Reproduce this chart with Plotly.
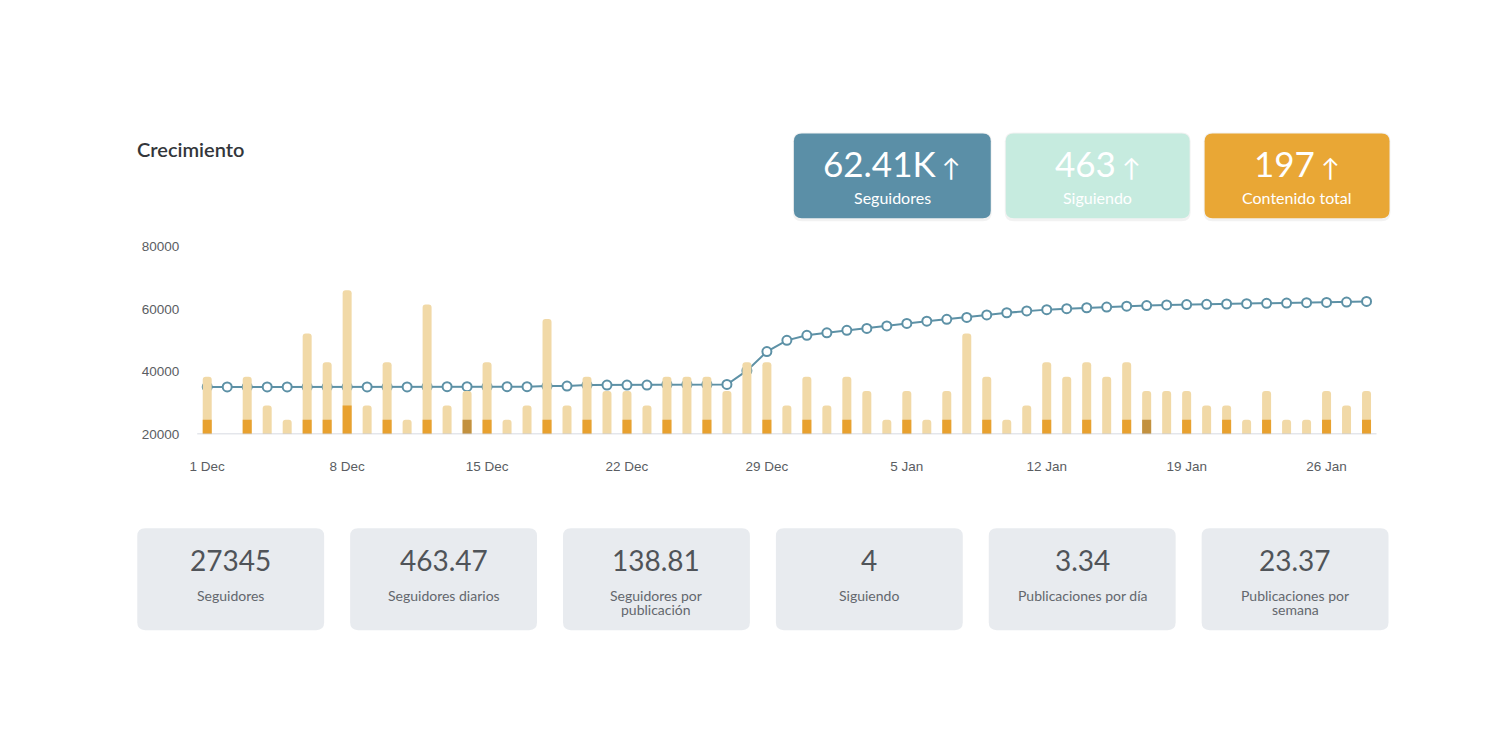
import pandas as pd
import plotly.graph_objects as go

# figure is sized to fit inside the 1500x750 window with the 8px page margin
W, H = 1484, 734
PAGE_MARGIN = 8
# measured mapping between page pixels and the photographed picture
SX, OX = 0.9952, 7.7
SY, OY = 0.98, 6.7

# --- data ---
days = pd.date_range("2023-12-01", periods=59, freq="D")

# posts per day (light bars) and featured posts (dark bars)
posts_total = [4, 0, 4, 2, 1, 7, 5, 10, 2, 5, 1, 9, 2, 3, 5, 1, 2, 8, 2,
               4, 3, 3, 2, 4, 4, 4, 3, 5, 5, 2, 4, 2, 4, 3, 1, 3, 1, 3, 7,
               4, 1, 2, 5, 4, 5, 4, 5, 3, 3, 3, 2, 2, 1, 3, 1, 1, 3, 2, 3]
posts_featured = [1, 0, 1, 0, 0, 1, 1, 2, 0, 1, 0, 1, 0, 1, 1, 0, 0, 1, 0,
                  1, 0, 1, 0, 1, 0, 1, 0, 0, 1, 0, 1, 0, 1, 0, 0, 1, 0, 1, 0,
                  1, 0, 0, 1, 0, 1, 0, 1, 1, 0, 1, 0, 1, 0, 1, 0, 0, 1, 0, 1]
highlight_days = [13, 47]

followers = [35100, 35100, 35100, 35100, 35100, 35100, 35100, 35100, 35100, 35100,
             35100, 35200, 35200, 35200, 35200, 35200, 35200, 35400, 35400, 35700,
             35700, 35700, 35700, 35900, 35900, 35900, 35900, 40300, 46400, 50000,
             51600, 52400, 53200, 53800, 54600, 55400, 56100, 56700, 57300, 58100,
             58800, 59400, 59800, 60100, 60400, 60600, 60900, 61100, 61300, 61400,
             61500, 61600, 61700, 61800, 61900, 62000, 62100, 62200, 62410]

kpi_values = ["62.41K", "463", "197"]
kpi_labels = ["Seguidores", "Siguiendo", "Contenido total"]

stat_values = ["27345", "463.47", "138.81", "4", "3.34", "23.37"]
stat_labels = ["Seguidores", "Seguidores diarios", "Seguidores por<br>publicación",
               "Siguiendo", "Publicaciones por día", "Publicaciones por<br>semana"]

# --- colours ---
LIGHT = "#f1d9a7"
DARK = "#e8a12f"
BROWN = "#c2913f"
LINE = "#5d91a6"
KPI_COLORS = ["#5b8fa7", "#c6ebdf", "#e9a735"]
STAT_BG = "#e8ebef"
FONT = "Lato"


# helpers: picture pixel -> paper fraction
def px(x):
    return ((x - OX) / SX - PAGE_MARGIN) / W


def py(y):
    return 1 - ((y - OY) / SY - PAGE_MARGIN) / H


def rounded_rect(x0, y0, x1, y1, r=8):
    rx, ry = r / W, r / H
    L, R, T, B = px(x0), px(x1), py(y0), py(y1)
    return (f"M{L+rx},{T} L{R-rx},{T} Q{R},{T} {R},{T-ry} L{R},{B+ry} "
            f"Q{R},{B} {R-rx},{B} L{L+rx},{B} Q{L},{B} {L},{B+ry} "
            f"L{L},{T-ry} Q{L},{T} {L+rx},{T} Z")


featured_colors = [BROWN if i in highlight_days else DARK for i in range(len(days))]
bar_w = 0.45 * 86400000

fig = go.Figure()
fig.add_trace(go.Bar(x=days, y=posts_total, yaxis="y2", width=bar_w,
                     marker=dict(color=LIGHT, line_width=0), name="Publicaciones"))
fig.add_trace(go.Bar(x=days, y=posts_featured, yaxis="y2", width=bar_w,
                     marker=dict(color=featured_colors, line_width=0), name="Destacadas"))
fig.add_trace(go.Scatter(x=days, y=followers, mode="lines+markers", name="Seguidores",
                         line=dict(color=LINE, width=2),
                         marker=dict(size=9, color="white", line=dict(color=LINE, width=2))))

shapes = []
annotations = []

# title
annotations.append(dict(x=px(135), y=py(149), xref="paper", yref="paper", text="Crecimiento",
                        showarrow=False, xanchor="left", yanchor="middle",
                        font=dict(family=FONT, size=20, color="#33363a", weight=600)))

# top KPI cards
kpi_boxes = [(794, 991), (1006, 1190), (1205, 1390)]
for (x0, x1), val, lab, col in zip(kpi_boxes, kpi_values, kpi_labels, KPI_COLORS):
    shapes.append(dict(type="path", xref="paper", yref="paper",
                       path=rounded_rect(x0 - 1, 132, x1 + 1, 221, 9),
                       fillcolor="rgba(0,0,0,0.05)", line_width=0, layer="below"))
    shapes.append(dict(type="path", xref="paper", yref="paper",
                       path=rounded_rect(x0, 133, x1, 218, 8),
                       fillcolor=col, line_width=0, layer="below"))
    cx = (x0 + x1) / 2
    annotations.append(dict(x=px(cx), y=py(163), xref="paper", yref="paper",
                            text=f"{val}<span style='font-size:25px'> ↑</span>",
                            showarrow=False, xanchor="center", yanchor="middle",
                            font=dict(family=FONT, size=35, color="white")))
    annotations.append(dict(x=px(cx), y=py(197), xref="paper", yref="paper", text=lab,
                            showarrow=False, xanchor="center", yanchor="middle",
                            font=dict(family=FONT, size=16, color="white")))

# bottom stat cards
stat_x0 = [137, 350, 563, 776, 989, 1202]
for x0, val, lab in zip(stat_x0, stat_values, stat_labels):
    x1 = x0 + 187
    shapes.append(dict(type="path", xref="paper", yref="paper",
                       path=rounded_rect(x0, 528, x1, 630, 8),
                       fillcolor=STAT_BG, line_width=0, layer="below"))
    cx = (x0 + x1) / 2
    annotations.append(dict(x=px(cx), y=py(560), xref="paper", yref="paper", text=val,
                            showarrow=False, xanchor="center", yanchor="middle",
                            font=dict(family=FONT, size=28, color="#505459")))
    # label lines set one by one for the tight line spacing of the original
    for i, line in enumerate(lab.split("<br>")):
        annotations.append(dict(x=px(cx), y=py(595 + 14 * i), xref="paper", yref="paper",
                                text=line, showarrow=False, xanchor="center", yanchor="middle",
                                font=dict(family=FONT, size=14, color="#63676d")))

fig.update_layout(
    width=W, height=H,
    margin=dict(l=0, r=0, t=0, b=0),
    paper_bgcolor="white", plot_bgcolor="white",
    showlegend=False,
    barmode="overlay",
    barcornerradius=3,
    shapes=shapes,
    annotations=annotations,
    xaxis=dict(domain=[px(197), px(1377)], type="date",
               range=[days[0] - pd.Timedelta(hours=12), days[-1] + pd.Timedelta(hours=12)],
               tick0=days[0], dtick=7 * 86400000, tickformat="%-d %b",
               showgrid=False, zeroline=False, showline=False, ticks="",
               ticklabelstandoff=22,
               tickfont=dict(family="Liberation Sans", size=13.5, color="#5a5d62")),
    yaxis=dict(domain=[py(434), py(246)], range=[20000, 80000],
               tickvals=[20000, 40000, 60000, 80000], tickformat="d",
               showgrid=False, zeroline=False, showline=False, ticks="",
               ticklabelstandoff=17,
               tickfont=dict(family="Liberation Sans", size=13.5, color="#5a5d62")),
    yaxis2=dict(overlaying="y", range=[0, 60000 / 4600], visible=False),
)

# baseline of the chart
fig.add_shape(type="line", xref="paper", yref="y", x0=px(197), x1=px(1377),
              y0=20000, y1=20000, line=dict(color="#c9ced8", width=1.5))

fig.write_html("out.html")
